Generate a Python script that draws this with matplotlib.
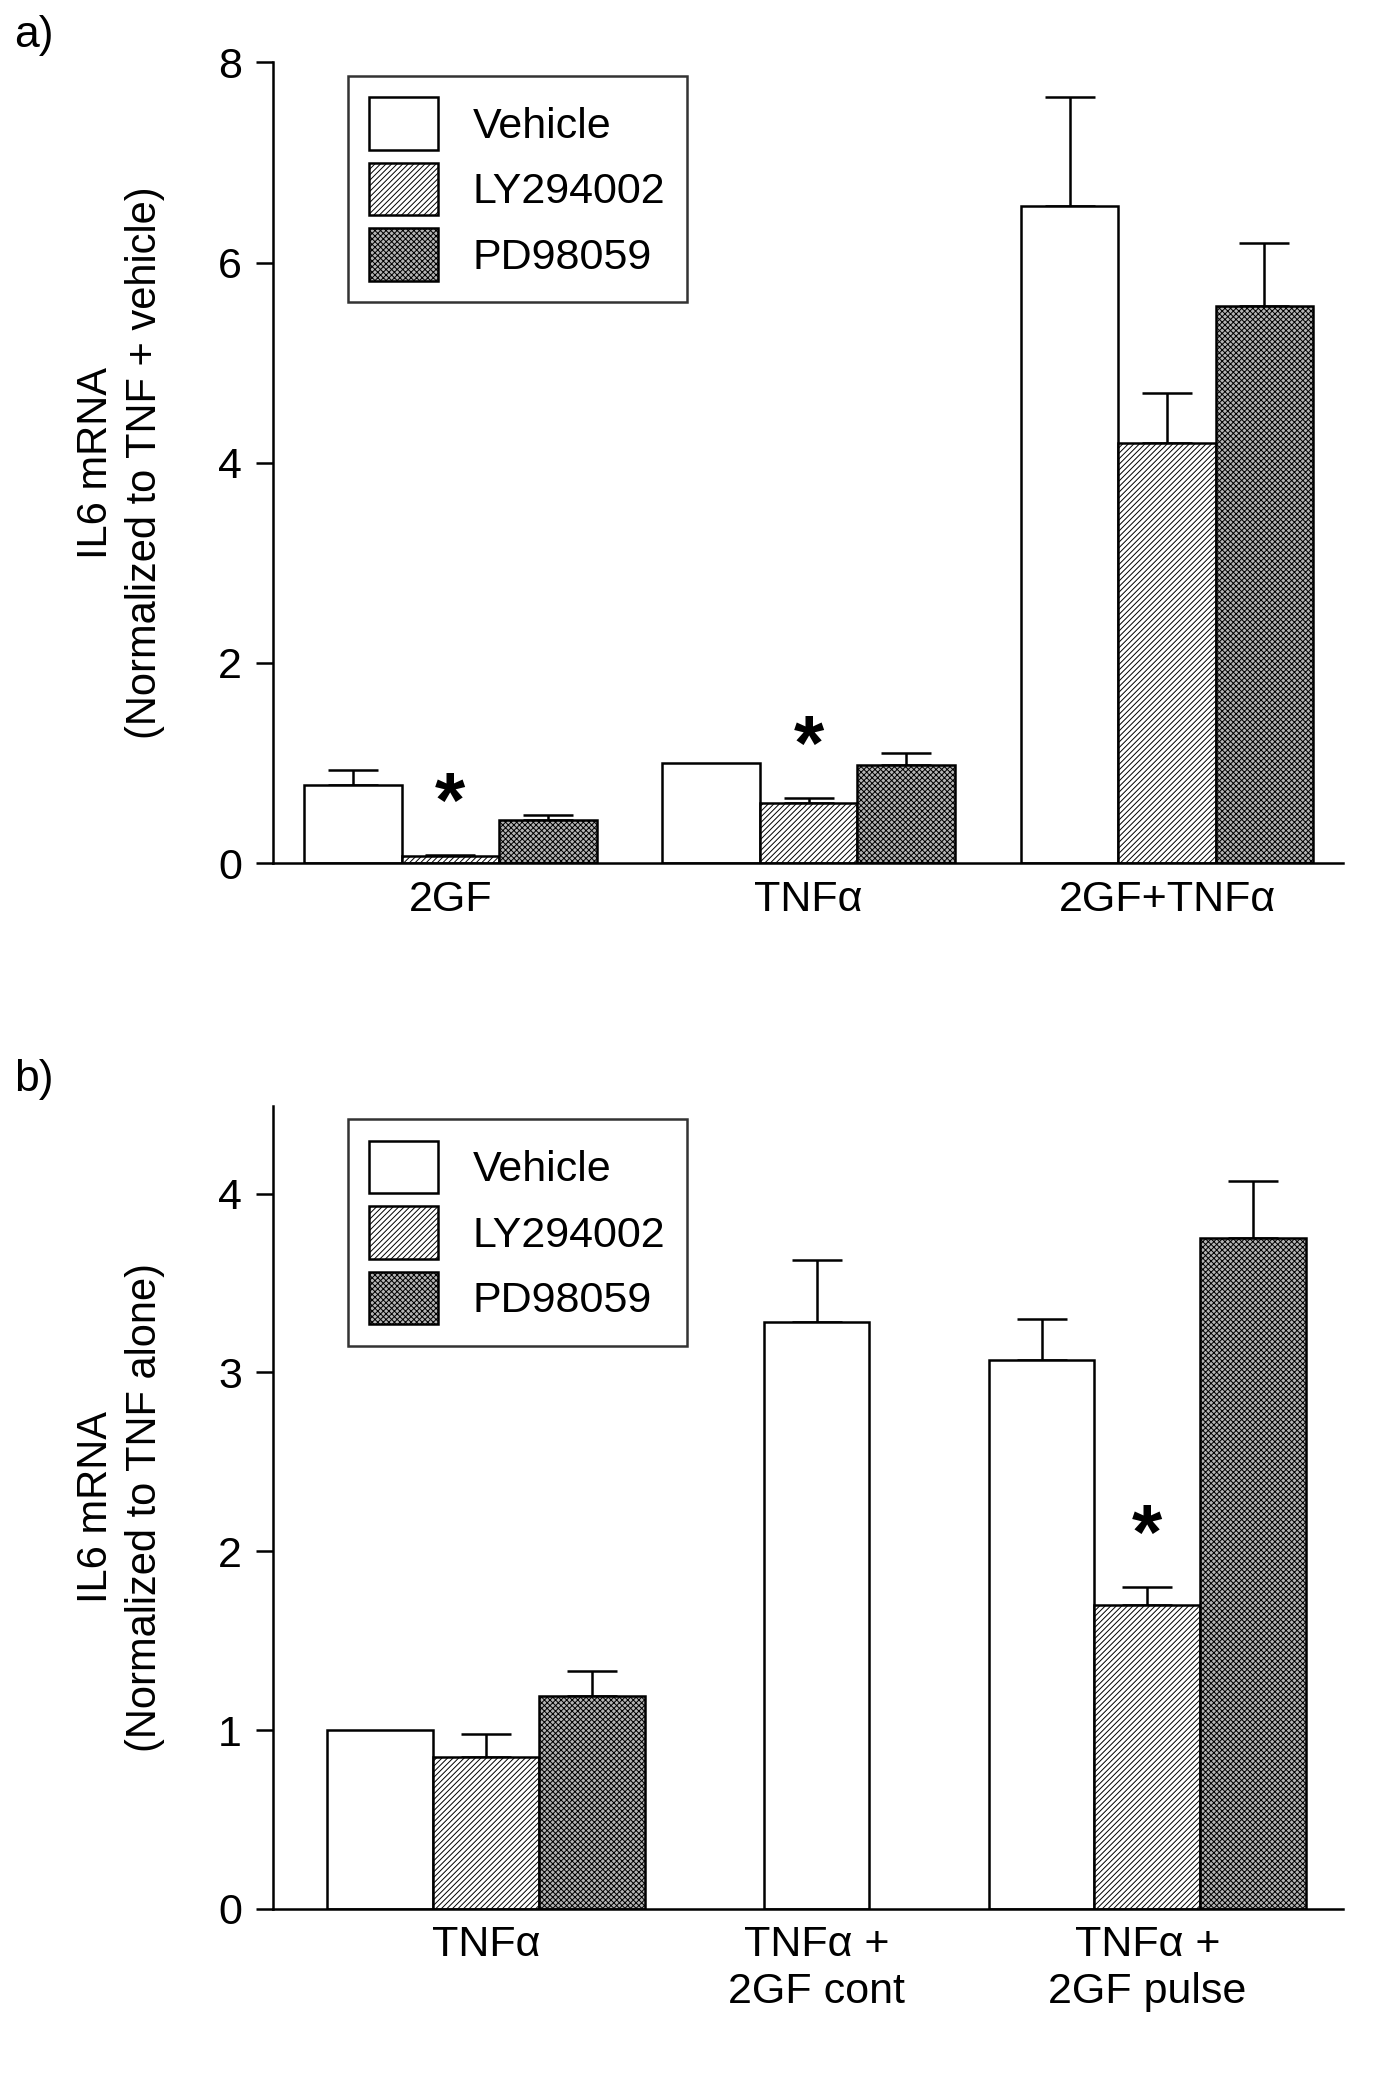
import matplotlib.pyplot as plt
import numpy as np

plt.rcParams['font.family'] = ['Liberation Sans', 'DejaVu Sans']
plt.rcParams['hatch.linewidth'] = 0.7

series = ['Vehicle', 'LY294002', 'PD98059']
fills = ['white', 'white', '#b4b4b4']
hatches = [None, '//////', 'xxxxxx']

# panel a
groups_a = ['2GF', 'TNFα', '2GF+TNFα']
mean_a = [[0.78, 1.0, 6.57], [0.07, 0.60, 4.20], [0.43, 0.98, 5.57]]
top_a = [[0.93, 1.0, 7.65], [0.08, 0.65, 4.70], [0.48, 1.10, 6.20]]
star_a = [(1, 0), (1, 1)]

# panel b
groups_b = ['TNFα', 'TNFα +\n2GF cont', 'TNFα +\n2GF pulse']
mean_b = [[1.0, 3.28, 3.07], [0.85, np.nan, 1.70], [1.19, np.nan, 3.75]]
top_b = [[1.0, 3.63, 3.30], [0.98, np.nan, 1.80], [1.33, np.nan, 4.07]]
star_b = [(1, 2)]

fig = plt.figure(figsize=(13.77, 20.8), dpi=100)


def panel(ax, groups, means, tops, stars, width, ylim, yticks, ylabel, tag, xlim):
    n = len(series)
    for g in range(len(groups)):
        present = [s for s in range(n) if not np.isnan(means[s][g])]
        for k, s in enumerate(present):
            x = g + (k - (len(present) - 1) / 2) * width
            m = means[s][g]
            ax.bar(x, m, width, color=fills[s], hatch=hatches[s], edgecolor='black',
                   linewidth=1.8, zorder=2)
            if tops[s][g] > m:
                ax.errorbar(x, m, yerr=[[0], [tops[s][g] - m]], color='black',
                            capsize=18, elinewidth=1.8, capthick=1.8, zorder=1)
            if (s, g) in stars:
                ax.text(x, tops[s][g] + 0.015 * ylim[1], '*', ha='center', va='bottom',
                        fontsize=56, fontweight='bold')
    for s in range(n):
        ax.bar(0, 0, 0, color=fills[s], hatch=hatches[s], edgecolor='black',
               linewidth=1.8, label=series[s])
    ax.set_xlim(xlim)
    ax.set_ylim(ylim)
    ax.set_yticks(yticks)
    ax.set_xticks(range(len(groups)))
    ax.set_xticklabels(groups, fontsize=31)
    ax.tick_params(axis='x', length=0, pad=12)
    ax.tick_params(axis='y', labelsize=31, width=1.8, length=12, direction='out', pad=10)
    for sp in ['top', 'right']:
        ax.spines[sp].set_visible(False)
    for sp in ['left', 'bottom']:
        ax.spines[sp].set_linewidth(1.8)
    ax.set_ylabel(ylabel, fontsize=30, labelpad=38, linespacing=1.3)
    leg = ax.legend(loc='upper left', bbox_to_anchor=(0.05, 1.01), fontsize=31,
                    frameon=True, fancybox=False, edgecolor='black',
                    handlelength=1.6, handleheight=1.5, borderpad=0.5, labelspacing=0.3)
    leg.get_frame().set_linewidth(1.8)
    fig.text(0.01, ax.get_position().y1 + 0.003, tag, fontsize=32, va='bottom')


ax1 = fig.add_axes([0.198, 0.585, 0.777, 0.385])
panel(ax1, groups_a, mean_a, top_a, star_a, 0.272, (0, 8), [0, 2, 4, 6, 8],
      'IL6 mRNA\n(Normalized to TNF + vehicle)', 'a)', (-0.496, 2.49))

ax2 = fig.add_axes([0.198, 0.0823, 0.777, 0.386])
panel(ax2, groups_b, mean_b, top_b, star_b, 0.32, (0, 4.49), [0, 1, 2, 3, 4],
      'IL6 mRNA\n(Normalized to TNF alone)', 'b)', (-0.644, 2.59))

fig.savefig('out.png', dpi=100)
